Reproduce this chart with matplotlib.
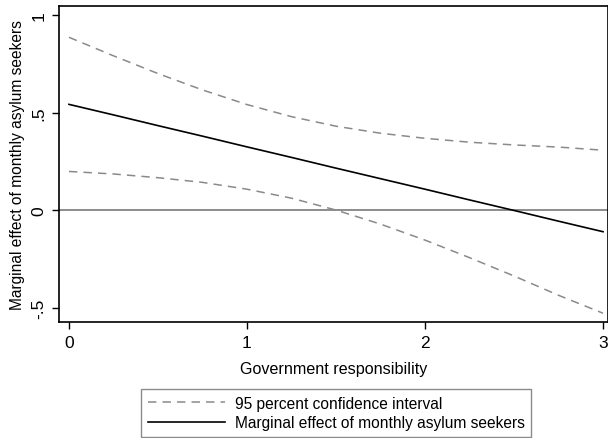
import matplotlib
matplotlib.use("Agg")
import matplotlib.pyplot as plt

plt.rcParams['font.family'] = ['Liberation Sans', 'DejaVu Sans']

# ---- data ----
gov_resp = [0, 0.25, 0.5, 0.75, 1.0, 1.25, 1.5, 1.75, 2.0, 2.25, 2.5, 2.75, 3.0]
marg_eff = [0.542, 0.488, 0.433, 0.379, 0.324, 0.270, 0.215, 0.161, 0.107, 0.052, -0.002, -0.057, -0.111]
ci_upper = [0.886, 0.791, 0.700, 0.616, 0.541, 0.479, 0.430, 0.394, 0.368, 0.348, 0.334, 0.323, 0.307]
ci_lower = [0.198, 0.185, 0.166, 0.142, 0.107, 0.061, 0.000, -0.072, -0.154, -0.244, -0.338, -0.437, -0.529]

xticks = [0, 1, 2, 3]
yticks = [-0.5, 0, 0.5, 1]
ytick_labels = ['-.5', '0', '.5', '1']

fig = plt.figure(figsize=(6.08, 4.39), dpi=100)
ax = fig.add_axes([59/608, 1-323/439, 1-59/608, (323-6.5)/439])

dash = (0, (5.5, 4))
ci_col = '#8a8a8a'
ax.axhline(0, color='#6e6e6e', lw=1.1, zorder=1)
l1, = ax.plot(gov_resp, ci_upper, color=ci_col, lw=1.1, linestyle=dash)
ax.plot(gov_resp, ci_lower, color=ci_col, lw=1.1, linestyle=dash)
l2, = ax.plot(gov_resp, marg_eff, color='black', lw=1.2)

ax.set_xlim(-0.056, 3.028)
ax.set_ylim(-0.574, 1.049)
ax.set_xticks(xticks)
ax.set_xticklabels([str(t) for t in xticks])
ax.set_yticks(yticks)
ax.set_yticklabels(ytick_labels, rotation=90, va='center')
ax.tick_params(direction='out', length=5, width=1, labelsize=12.5, pad=4)
for s in ax.spines.values():
    s.set_linewidth(1.2)

ax.set_xlabel('Government responsibility', fontsize=11.6, labelpad=8)
ax.set_ylabel('Marginal effect of monthly asylum seekers', fontsize=11.2, labelpad=5)

leg = fig.legend([l1, l2], ['95 percent confidence interval', 'Marginal effect of monthly asylum seekers'],
                 loc='center', bbox_to_anchor=(336/608, 1-414/439), fontsize=11.2,
                 handlelength=5, fancybox=False, framealpha=1, edgecolor='#8a8a8a',
                 borderpad=0.4, labelspacing=0.3, handletextpad=0.6)
leg.get_frame().set_linewidth(1.0)

fig.savefig('out.png', dpi=100)
